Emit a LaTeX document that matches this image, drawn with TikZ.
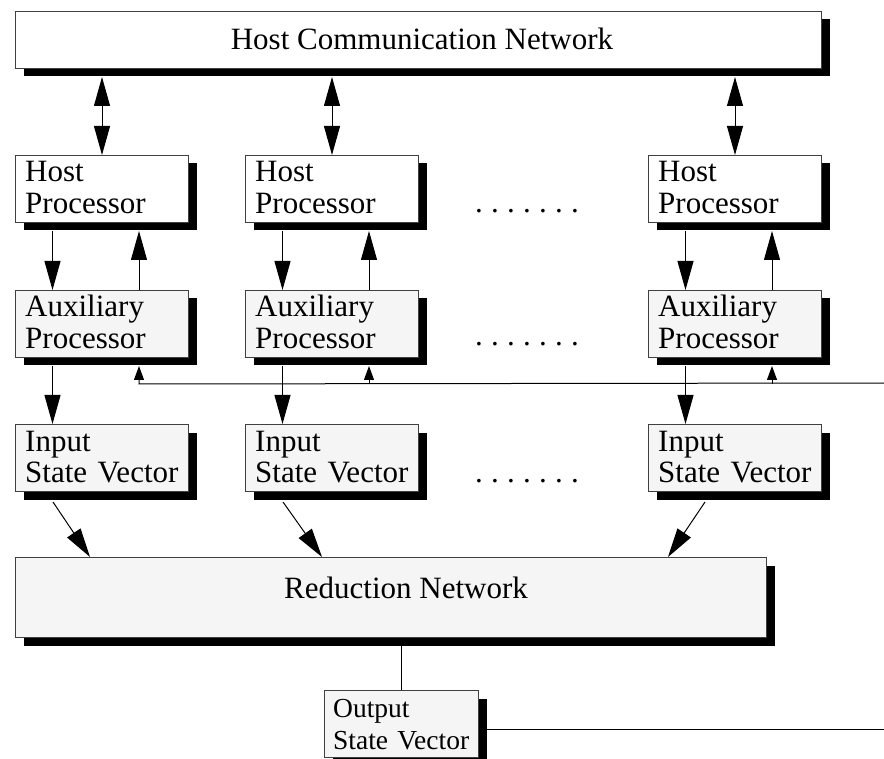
\documentclass[tikz,border=0pt]{standalone}
\usepackage{fontspec}
\setmainfont{Liberation Serif}
\usetikzlibrary{arrows.meta,calc,shadows}

\definecolor{panel}{HTML}{F5F5F5}
\definecolor{rim}{HTML}{404040}

% seven spaced full stops
\newcommand\sevendots{.\kern8.25pt.\kern8.25pt.\kern8.25pt.\kern8.25pt.\kern8.25pt.\kern8.25pt.}

\begin{document}
\begin{tikzpicture}[x=1pt,y=-1pt,
  every node/.style={font=\fontsize{31}{31.5}\selectfont},
  blockbox/.style={draw=rim, line width=1pt, inner sep=0pt, anchor=north west,
    drop shadow={shadow xshift=8pt, shadow yshift=-8pt, fill=black, opacity=1}},
  unitbox/.style={blockbox, minimum width=173pt, minimum height=67pt},
  boxlabel/.style={anchor=base west, inner sep=0pt, text width=165pt, align=left},
  dotrow/.style={anchor=base west, inner sep=0pt},
  wire/.style={line width=1pt},
  bigtip/.style={wire, -{Triangle[length=29pt,width=16pt]}},
  dbltip/.style={wire, {Triangle[length=29pt,width=16pt]}-{Triangle[length=29pt,width=16pt]}},
  smalltip/.style={wire, -{Triangle[length=14pt,width=10pt]}}
]
\useasboundingbox (0,0) rectangle (884,759);
\clip (0,0) rectangle (884,759);

% top-level network
\node[blockbox, fill=white, minimum width=806pt, minimum height=57pt] (hcn) at (15,11) {};
\node[anchor=base, inner sep=0pt] (hcn-t) at (422,50) {Host Communication Network};
\coordinate (hcnfoot) at ($(hcn.south)+(0,8)$);

% three processor columns
\foreach \i/\x in {1/15,2/245,3/648} {
  \node[unitbox, fill=white] (host\i) at (\x,155) {};
  \node[boxlabel] (host\i-t) at (\x+10,182) {Host\\Processor};
  \node[unitbox, fill=panel] (aux\i) at (\x,290) {};
  \node[boxlabel] (aux\i-t) at (\x+10,317) {Auxiliary\\Processor};
  \node[unitbox, fill=panel] (in\i) at (\x,424) {};
  \node[boxlabel] (in\i-t) at (\x+10,451) {Input\\State Vector};
}

% ellipsis between the second and third columns
\node[dotrow] (dots1) at (475,213) {\sevendots};
\node[dotrow] (dots2) at (475,346) {\sevendots};
\node[dotrow] (dots3) at (475,482) {\sevendots};

% reduction network and output
\node[blockbox, fill=panel, minimum width=751pt, minimum height=80pt] (red) at (15,557) {};
\node[anchor=base, inner sep=0pt] (red-t) at (406,598) {Reduction Network};
\node[blockbox, fill=panel, minimum width=154pt, minimum height=67pt] (out) at (324,690) {};
\node[boxlabel, text width=145pt, font=\fontsize{27.5}{32}\selectfont] (out-t) at (333,717) {Output\\State Vector};

% connectors within each column
\foreach \i in {1,2,3} {
  \draw[dbltip] (host\i.north |- hcnfoot) -- (host\i.north);
  \draw[bigtip] ($(host\i.south west)+(37.5,8)$) -- ($(aux\i.north west)+(37.5,0)$);
  \draw[bigtip] ($(aux\i.north west)+(124,0)$) -- ($(host\i.south west)+(124,8)$);
  \draw[bigtip] ($(aux\i.south west)+(37.5,8)$) -- ($(in\i.north west)+(37.5,0)$);
}

% shared bus feeding the auxiliary processors
\coordinate (busend) at (884,383);
\draw[smalltip] (busend) -- ($(aux1.south west)+(124,26)$) -- ($(aux1.south west)+(124,8)$);
\draw[smalltip] ($(aux2.south west)+(124,26)$) -- ($(aux2.south west)+(124,8)$);
\draw[smalltip] ($(aux3.south west)+(124,26)$) -- ($(aux3.south west)+(124,8)$);

% input vectors into the reduction network
\draw[bigtip] ($(in1.south west)+(38,10)$) -- (red.north -| 90,0);
\draw[bigtip] ($(in2.south west)+(38,10)$) -- (red.north -| 322,0);
\draw[bigtip] ($(in3.south west)+(57,10)$) -- (red.north -| 668,0);

% reduction result and output line
\draw[wire] (out.north |- red.south) -- (out.north);
\coordinate (outend) at (884,729);
\draw[wire] ($(out.east |- outend)+(8,0)$) -- (outend);
\end{tikzpicture}
\end{document}
